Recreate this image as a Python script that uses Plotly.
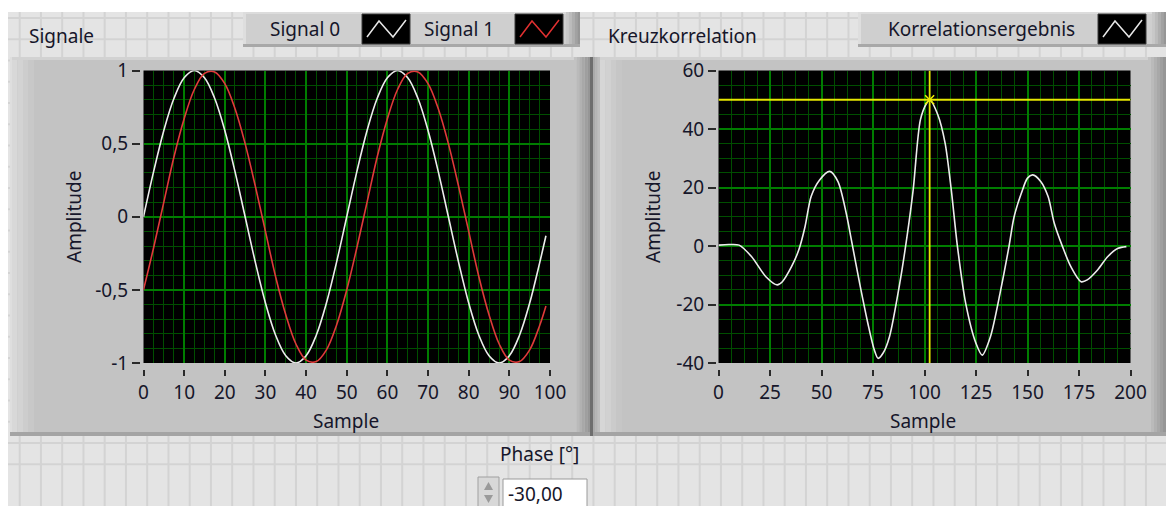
import plotly.graph_objects as go

W, H = 1166, 506

# ---------------- data ----------------
sig_x = [0, 2.5, 5, 7.5, 10, 12.5, 15, 17.5, 20, 22.5, 25, 27.5, 30, 32.5, 35, 37.5,
         40, 42.5, 45, 47.5, 50, 52.5, 55, 57.5, 60, 62.5, 65, 67.5, 70, 72.5, 75,
         77.5, 80, 82.5, 85, 87.5, 90, 92.5, 95, 97.5, 99]
signal0 = [0, 0.31, 0.59, 0.81, 0.95, 1.0, 0.95, 0.81, 0.59, 0.31, 0, -0.31, -0.59,
           -0.81, -0.95, -1.0, -0.95, -0.81, -0.59, -0.31, 0, 0.31, 0.59, 0.81, 0.95,
           1.0, 0.95, 0.81, 0.59, 0.31, 0, -0.31, -0.59, -0.81, -0.95, -1.0, -0.95,
           -0.81, -0.59, -0.31, -0.13]
signal1 = [-0.5, -0.21, 0.10, 0.41, 0.67, 0.87, 0.98, 0.99, 0.91, 0.74, 0.5, 0.21,
           -0.10, -0.41, -0.67, -0.87, -0.98, -0.99, -0.91, -0.74, -0.5, -0.21, 0.10,
           0.41, 0.67, 0.87, 0.98, 0.99, 0.91, 0.74, 0.5, 0.21, -0.10, -0.41, -0.67,
           -0.87, -0.98, -0.99, -0.91, -0.74, -0.61]

corr_x = [0, 5, 10, 16, 23, 28.5, 31, 35.5, 39, 42, 45, 49, 54, 58, 62, 64.5, 68.5,
          72.5, 75.5, 77.5, 80, 83, 88, 91.5, 94.5, 98, 101, 102.5, 106.5, 110, 113,
          116, 120, 125, 128, 132, 137, 141, 143.5, 147, 150, 152.5, 156.5, 160, 163,
          167, 171, 176, 179, 184, 189, 194, 198]
corr_y = [0.3, 0.5, 0.3, -3.6, -10.5, -13.3, -12.2, -7, -1.3, 6.6, 17, 22.5, 25.5,
          22, 11.2, 2.1, -12.7, -26.4, -35.2, -38.4, -36.5, -31, -12.7, 3.2, 19.2,
          43.1, 48.8, 50, 44.8, 35.2, 19.2, -0.2, -19.6, -33.3, -37.3, -31, -15, -0.2,
          10, 18, 23.2, 24.3, 22, 16.9, 7.8, -0.2, -7, -12.2, -11.6, -8.2, -3.6, -0.8,
          -0.2]

cursor_x = 102.5
cursor_y = 50

left_xticks = [0, 10, 20, 30, 40, 50, 60, 70, 80, 90, 100]
left_yticks = [-1, -0.5, 0, 0.5, 1]
left_yticktext = ["-1", "-0,5", "0", "0,5", "1"]
right_xticks = [0, 25, 50, 75, 100, 125, 150, 175, 200]
right_yticks = [-40, -20, 0, 20, 40, 60]

left_title = "Signale"
right_title = "Kreuzkorrelation"
legend_left = ["Signal 0", "Signal 1"]
legend_right = "Korrelationsergebnis"
phase_label = "Phase [°]"
phase_value = "-30,00"

# ---------------- helpers ----------------
def X(p):
    return p / W

def Y(p):
    return 1 - p / H

FONT = "Noto Sans"
TXT = "#16162a"
MAJOR = "rgb(0,125,0)"
MINOR = "rgb(0,78,0)"

shapes = []

def rect(x0, y0, x1, y1, fill, line=None, lw=0, layer="below"):
    shapes.append(dict(type="rect", xref="paper", yref="paper",
                       x0=X(x0), x1=X(x1), y0=Y(y1), y1=Y(y0),
                       fillcolor=fill, layer=layer,
                       line=dict(width=lw, color=line or fill)))

def hgrad(x0, x1, y0, y1, c0, c1, n=6):
    for i in range(n):
        t = i / (n - 1) if n > 1 else 0
        c = tuple(int(round(c0[k] + (c1[k] - c0[k]) * t)) for k in range(3))
        a = x0 + (x1 - x0) * i / n
        b = x0 + (x1 - x0) * (i + 1) / n
        rect(a, y0, b, y1, "rgb(%d,%d,%d)" % c)

# panel background grid
grid_path = ""
k = 0
while True:
    gx = 19.7 + 21.25 * k
    if gx > W:
        break
    grid_path += "M%.5f,%.5f L%.5f,%.5f " % (X(gx), Y(12), X(gx), Y(H))
    k += 1
k = 0
while True:
    gy = 464.25 - 21.25 * k
    if gy < 12:
        break
    grid_path += "M%.5f,%.5f L%.5f,%.5f " % (X(0), Y(gy), X(W), Y(gy))
    k += 1
shapes.append(dict(type="path", xref="paper", yref="paper", path=grid_path,
                   line=dict(color="#d3d3d3", width=2), layer="below"))
# white strips
rect(0, 0, W, 12, "#ffffff")
rect(0, 0, 8, H, "#ffffff")

# ---- left graph frame ----
rect(10, 57, 590, 436, "#c3c3c3")
rect(10, 57, 12, 436, "#dedede")
hgrad(12, 34, 59, 433, (216, 216, 216), (200, 200, 200), 4)
rect(12, 57, 590, 60, "#d2d2d2")
hgrad(574, 590, 57, 436, (195, 195, 195), (150, 150, 150), 6)
rect(10, 432, 590, 436, "#a4a4a4")
rect(590, 57, 593, 436, "#6e6e6e")

# ---- right graph frame ----
rect(593, 57, W, 436, "#c3c3c3")
hgrad(593, 600, 57, 436, (170, 170, 170), (190, 190, 190), 3)
hgrad(600, 622, 59, 433, (214, 214, 214), (198, 198, 198), 4)
rect(600, 57, W, 60, "#d2d2d2")
hgrad(1148, W, 57, 436, (195, 195, 195), (150, 150, 150), 6)
rect(593, 432, W, 436, "#a4a4a4")

# ---- plot areas (black) ----
rect(143.5, 70.5, 550, 363, "#000000")
rect(718.5, 70.5, 1130.5, 363, "#000000")

# ---- legend boxes ----
def legend_box(x0, x1):
    rect(x0, 12, x1, 47, "#cfcfcf")
    rect(x0, 12, x1, 14, "#dcdcdc")
    rect(x0, 12, x0 + 3, 47, "#dedede")
    hgrad(x1 - 14, x1, 12, 47, (200, 200, 200), (150, 150, 150), 5)
    rect(x0, 44, x1, 47, "#a8a8a8")

legend_box(243, 580)
legend_box(858, W)

def swatch(x0, color):
    rect(x0, 14, x0 + 48, 44, "#000000", line="#3a3a3a", lw=1, layer="above")
    pts = [(x0 + 5, 37), (x0 + 17, 21), (x0 + 31, 37), (x0 + 44, 20)]
    p = "M" + " L".join("%.5f,%.5f" % (X(a), Y(b)) for a, b in pts)
    shapes.append(dict(type="path", xref="paper", yref="paper", path=p,
                       line=dict(color=color, width=1.5), layer="above"))

swatch(362, "#e8e8e8")
swatch(515, "#e03030")
swatch(1098, "#e8e8e8")

# ---- phase numeric control ----
rect(503, 479, 587, H + 2, "#ffffff", line="#9a9a9a", lw=1, layer="above")
shapes.append(dict(type="rect", xref="paper", yref="paper",
                   x0=X(478), x1=X(499), y0=Y(H + 4), y1=Y(477),
                   fillcolor="#d8d8d8", line=dict(color="#a0a0a0", width=1),
                   layer="above"))
shapes.append(dict(type="path", xref="paper", yref="paper",
                   path="M%.5f,%.5f L%.5f,%.5f L%.5f,%.5f Z" % (
                       X(484), Y(490), X(488.5), Y(482), X(493), Y(490)),
                   fillcolor="#9a9a9a", line=dict(width=0), layer="above"))
shapes.append(dict(type="path", xref="paper", yref="paper",
                   path="M%.5f,%.5f L%.5f,%.5f L%.5f,%.5f Z" % (
                       X(484), Y(495), X(488.5), Y(503), X(493), Y(495)),
                   fillcolor="#9a9a9a", line=dict(width=0), layer="above"))

# ---- cursor (data coords of right graph) ----
shapes.append(dict(type="line", xref="x2", yref="y2", x0=cursor_x, x1=cursor_x,
                   y0=-40, y1=60, line=dict(color="#e6e600", width=1.8),
                   layer="above"))
shapes.append(dict(type="line", xref="x2", yref="y2", x0=0, x1=200,
                   y0=cursor_y, y1=cursor_y, line=dict(color="#e6e600", width=1.8),
                   layer="above"))

# ---------------- traces ----------------
fig = go.Figure()
fig.add_trace(go.Scatter(x=sig_x, y=signal0, mode="lines", name=legend_left[0],
                         line=dict(color="#ececec", width=1.6, shape="spline"),
                         xaxis="x", yaxis="y"))
fig.add_trace(go.Scatter(x=sig_x, y=signal1, mode="lines", name=legend_left[1],
                         line=dict(color="#e03a3a", width=1.6, shape="spline"),
                         xaxis="x", yaxis="y"))
fig.add_trace(go.Scatter(x=corr_x, y=corr_y, mode="lines", name=legend_right,
                         line=dict(color="#ececec", width=1.6, shape="spline",
                                   smoothing=0.8),
                         xaxis="x2", yaxis="y2"))
fig.add_trace(go.Scatter(x=[cursor_x], y=[cursor_y], mode="markers",
                         marker=dict(symbol="x-thin", size=9,
                                     line=dict(color="#f0f000", width=1.5)),
                         xaxis="x2", yaxis="y2"))

# ---------------- annotations ----------------
ann = []

def text(x, y, s, size=19, angle=0, xanchor="center"):
    ann.append(dict(x=X(x), y=Y(y), xref="paper", yref="paper", text=s,
                    showarrow=False, xanchor=xanchor, yanchor="middle",
                    textangle=angle, font=dict(family=FONT, size=size, color=TXT)))

text(27, 36, left_title, xanchor="left")
text(606, 36, right_title, xanchor="left")
text(305, 29, legend_left[0])
text(459, 29, legend_left[1])
text(981, 29, legend_right)
text(74, 217, "Amplitude", angle=-90)
text(653, 217, "Amplitude", angle=-90)
text(346, 421, "Sample")
text(923, 421, "Sample")
text(539, 454, phase_label)
text(506, 494, phase_value, xanchor="left")

# ---------------- axes ----------------
tickfont = dict(family=FONT, size=19, color=TXT)

def xax(domain, rng, ticks, minor_dt):
    return dict(domain=domain, range=rng, tickmode="array", tickvals=ticks,
                showgrid=True, gridcolor=MAJOR, gridwidth=1.5, zeroline=False,
                showline=False, ticks="outside", ticklen=6, tickwidth=2,
                tickcolor="#2a2a2a", tickfont=tickfont, anchor="free",
                position=Y(369), automargin=False,
                minor=dict(dtick=minor_dt, tick0=0, showgrid=True,
                           gridcolor=MINOR, gridwidth=1, ticks=""),
                fixedrange=True)

def yax(domain, rng, ticks, ticktext, minor_dt, pos):
    return dict(domain=domain, range=rng, tickmode="array", tickvals=ticks,
                ticktext=ticktext,
                showgrid=True, gridcolor=MAJOR, gridwidth=1.5, zeroline=False,
                showline=False, ticks="outside", ticklen=8, tickwidth=2,
                tickcolor="#2a2a2a", tickfont=tickfont, anchor="free",
                position=pos, automargin=False,
                minor=dict(dtick=minor_dt, tick0=0, showgrid=True,
                           gridcolor=MINOR, gridwidth=1, ticks=""),
                fixedrange=True)

ydom = [Y(363), Y(70.5)]
fig.update_layout(
    width=W, height=H, autosize=False,
    margin=dict(l=0, r=0, t=0, b=0, pad=0, autoexpand=False),
    paper_bgcolor="#e4e4e4",
    plot_bgcolor="#000000",
    showlegend=False,
    xaxis=xax([X(143.5), X(550)], [0, 100], left_xticks, 2.5),
    yaxis=yax(ydom, [-1, 1], left_yticks, left_yticktext, 0.1, X(140)),
    xaxis2=xax([X(718.5), X(1130.5)], [0, 200], right_xticks, 6.25),
    yaxis2=yax(ydom, [-40, 60], right_yticks, [str(v) for v in right_yticks], 5,
               X(716)),
    shapes=shapes,
    annotations=ann,
)

fig.write_html("out.html", config={"displayModeBar": False})
